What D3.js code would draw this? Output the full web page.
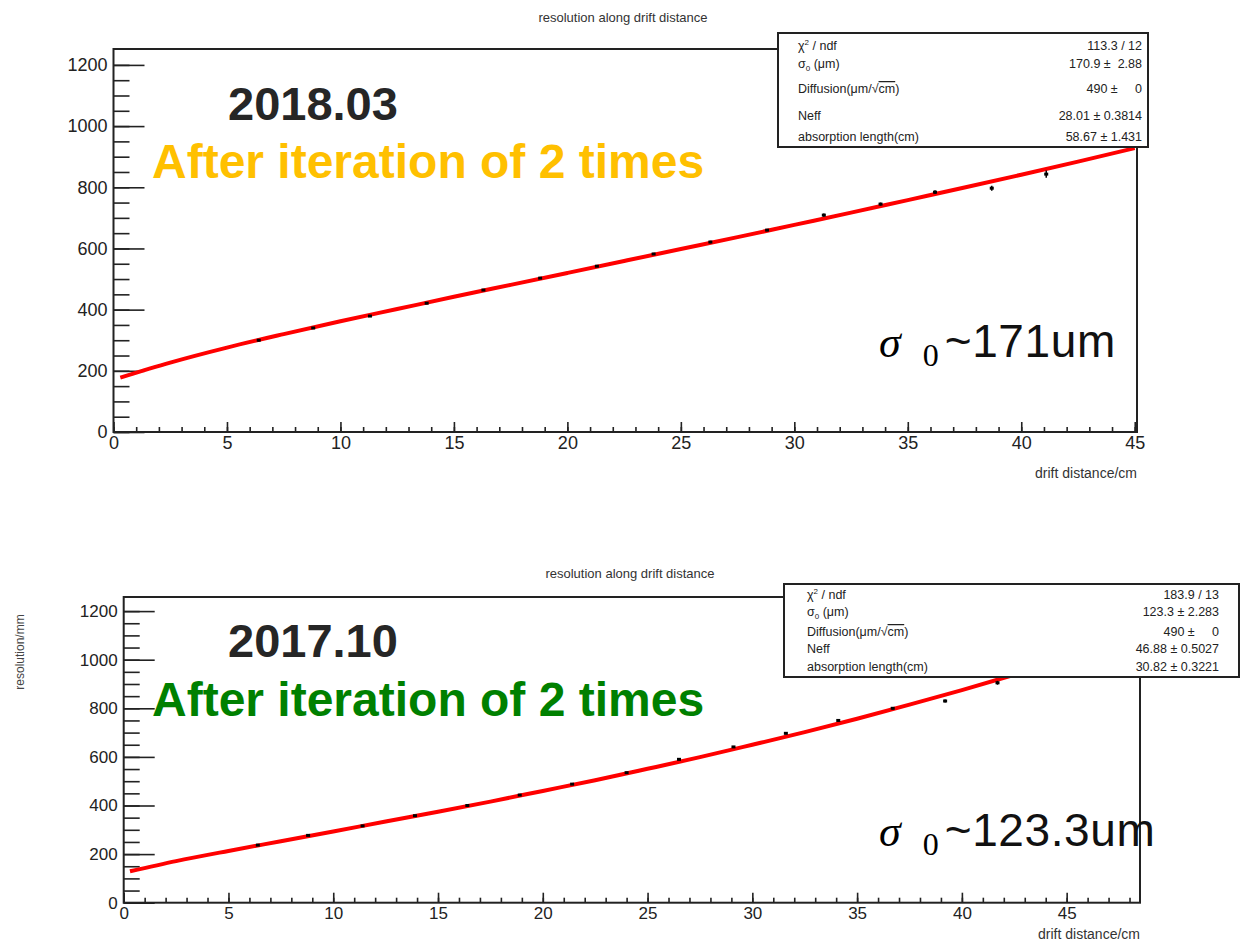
<!DOCTYPE html>
<meta charset="utf-8">
<style>
  body { margin: 0; background: #fff; }
  svg text { font-family: "Liberation Sans", Arial, sans-serif; }
</style>
<script src="https://d3js.org/d3.v7.min.js"></script>
<body>
<div id="chart"></div>
<script>

// ---- data ----
// top panel (2018.03)
var topX   = [6.4, 8.8, 11.3, 13.8, 16.3, 18.8, 21.3, 23.8, 26.3, 28.8, 31.3, 33.8, 36.2, 38.7, 41.1];
var topY   = [300, 340, 379, 421, 464, 503, 542, 582, 621, 660, 709, 745, 784, 797, 843];
var topErr = [4, 3, 3, 3, 3, 3, 3, 3, 4, 4, 5, 5, 6, 8, 12];
var topStats = ["113.3 / 12", "170.9 \u00b1  2.88", "490 \u00b1     0", "28.01 \u00b1 0.3814", "58.67 \u00b1 1.431"];

// bottom panel (2017.10)
var botX   = [6.4, 8.8, 11.4, 13.9, 16.4, 18.9, 21.4, 24.0, 26.5, 29.1, 31.6, 34.1, 36.7, 39.2, 41.7, 44.2];
var botY   = [237, 277, 316, 358, 400, 443, 488, 535, 590, 641, 697, 750, 800, 830, 905, 937];
var botErr = [3, 3, 3, 3, 3, 3, 3, 3, 4, 4, 4, 5, 5, 6, 8, 10];
var botStats = ["183.9 / 13", "123.3 \u00b1 2.283", "490 \u00b1     0", "46.88 \u00b1 0.5027", "30.82 \u00b1 0.3221"];

// fitted curves, sampled along x
var fitX    = [0.3, 2.5, 5, 7.5, 10, 12.5, 15, 17.5, 20, 22.5, 25, 27.5, 30, 32.5, 35, 37.5, 40, 42.5, 45];
var topFitY = [178, 227, 276, 320, 362, 402, 442, 481, 520, 559, 598, 637, 677, 717, 758, 799, 841, 884, 928];
var botFitY = [129, 171, 213, 253, 293, 334, 374, 416, 460, 504, 551, 599, 650, 702, 757, 815, 875, 938, 1004];

var yTicks = [0, 200, 400, 600, 800, 1000, 1200];
var xTicks = [0, 5, 10, 15, 20, 25, 30, 35, 40, 45];

var svg = d3.select("#chart").append("svg")
    .attr("width", 1240)
    .attr("height", 943);

function drawPanel(p) {
  var x = d3.scaleLinear().domain([0, p.xMax]).range([p.left, p.right]);
  var y = d3.scaleLinear().domain([0, p.yMax]).range([p.bottom, p.top]);
  var g = svg.append("g");

  // title
  g.append("text")
    .attr("x", p.titleX).attr("y", p.titleY)
    .attr("text-anchor", "middle")
    .style("font-size", "13px").style("fill", "#333")
    .text("resolution along drift distance");

  // minor / major y ticks (pointing into the frame)
  var minorY = d3.range(0, 1250, 50);
  g.append("g")
    .attr("transform", "translate(" + p.left + ",0)")
    .call(d3.axisLeft(y).tickValues(minorY).tickSizeInner(-16).tickSizeOuter(0).tickFormat(""))
    .call(function(a) { a.select(".domain").remove(); });
  g.append("g")
    .attr("transform", "translate(" + p.left + ",0)")
    .call(d3.axisLeft(y).tickValues(yTicks).tickSizeInner(-31).tickSizeOuter(0)
      .tickPadding(6).tickFormat(d3.format("d")))
    .call(function(a) {
      a.select(".domain").remove();
      a.selectAll("text").style("font-size", p.tickFont + "px").style("fill", "#222")
        .style("font-family", "'Liberation Sans', Arial, sans-serif");
    });

  // x ticks
  var minorX = d3.range(0, Math.floor(p.xMax) + 1, 1);
  g.append("g")
    .attr("transform", "translate(0," + p.bottom + ")")
    .call(d3.axisBottom(x).tickValues(minorX).tickSizeInner(-5).tickSizeOuter(0).tickFormat(""))
    .call(function(a) { a.select(".domain").remove(); });
  g.append("g")
    .attr("transform", "translate(0," + p.bottom + ")")
    .call(d3.axisBottom(x).tickValues(xTicks).tickSizeInner(-10).tickSizeOuter(0)
      .tickPadding(4).tickFormat(d3.format("d")))
    .call(function(a) {
      a.select(".domain").remove();
      a.selectAll("text").style("font-size", p.tickFont + "px").style("fill", "#222")
        .style("font-family", "'Liberation Sans', Arial, sans-serif");
    });
  g.selectAll(".tick line").attr("stroke", "#222").attr("stroke-width", 1.6);

  // frame
  g.append("rect")
    .attr("x", p.left).attr("y", p.top)
    .attr("width", p.right - p.left).attr("height", p.bottom - p.top)
    .attr("fill", "none").attr("stroke", "#222").attr("stroke-width", 2);

  // x axis label
  g.append("text")
    .attr("x", p.right).attr("y", p.xLabelY)
    .attr("text-anchor", "end")
    .style("font-size", "14px").style("fill", "#333")
    .text("drift distance/cm");

  // fit curve
  var line = d3.line()
    .x(function(d, i) { return x(fitX[i]); })
    .y(function(d) { return y(d); })
    .curve(d3.curveMonotoneX);
  g.append("path")
    .attr("d", line(p.fitY))
    .attr("fill", "none").attr("stroke", "#ff0000").attr("stroke-width", 4);

  // data points with error bars
  var pts = g.selectAll(".pt").data(p.ys).enter().append("g").attr("class", "pt");
  pts.append("line")
    .attr("x1", function(d, i) { return x(p.xs[i]); })
    .attr("x2", function(d, i) { return x(p.xs[i]); })
    .attr("y1", function(d, i) { return y(d - p.err[i]); })
    .attr("y2", function(d, i) { return y(d + p.err[i]); })
    .attr("stroke", "#000").attr("stroke-width", 1.5);
  pts.append("rect")
    .attr("x", function(d, i) { return x(p.xs[i]) - 2; })
    .attr("y", function(d) { return y(d) - 1.5; })
    .attr("width", 4).attr("height", 3)
    .attr("fill", "#000");

  // stats box
  var b = p.box;
  g.append("rect")
    .attr("x", b.x).attr("y", b.y).attr("width", b.w).attr("height", b.h)
    .attr("fill", "#fff").attr("stroke", "#222").attr("stroke-width", 2);
  var labelsG = g.append("g").style("font-size", "12.5px").style("fill", "#222");
  b.rows.forEach(function(ry, i) {
    var t = labelsG.append("text").attr("x", b.lx).attr("y", ry);
    if (i === 0) {
      t.append("tspan").text("\u03c7");
      t.append("tspan").attr("dy", -5).style("font-size", "8px").text("2");
      t.append("tspan").attr("dy", 5).text(" / ndf");
    } else if (i === 1) {
      t.append("tspan").text("\u03c3");
      t.append("tspan").attr("dy", 3).style("font-size", "8px").text("0");
      t.append("tspan").attr("dy", -3).text(" (\u03bcm)");
    } else if (i === 2) {
      t.append("tspan").text("Diffusion(\u03bcm/\u221a");
      t.append("tspan").style("text-decoration", "overline").text("cm");
      t.append("tspan").text(")");
    } else if (i === 3) {
      t.text("Neff");
    } else {
      t.text("absorption length(cm)");
    }
    labelsG.append("text")
      .attr("x", b.vx).attr("y", ry)
      .attr("text-anchor", "end")
      .style("white-space", "pre")
      .text(p.stats[i]);
  });

  // annotations
  g.append("text")
    .attr("x", 228).attr("y", p.dateY)
    .style("font-size", "47px").style("font-weight", "bold").style("fill", "#262626")
    .text(p.date);
  g.append("text")
    .attr("x", 152).attr("y", p.iterY)
    .style("font-size", "48px").style("font-weight", "bold").style("fill", p.iterColor)
    .text("After iteration of 2 times");

  var s = g.append("text").attr("x", 879).attr("y", p.sigmaY);
  s.append("tspan")
    .style("font-family", "'Liberation Serif', 'DejaVu Serif', serif")
    .style("font-style", "italic").style("font-size", "44px")
    .text("\u03c3");
  s.append("tspan")
    .attr("dx", 22).attr("dy", 9)
    .style("font-family", "'Liberation Serif', 'DejaVu Serif', serif")
    .style("font-size", "32px")
    .text("0");
  s.append("tspan")
    .attr("dx", 6).attr("dy", -9)
    .style("font-size", "46px").style("letter-spacing", "0.6px").style("fill", "#111")
    .text(p.sigmaText);
}

drawPanel({
  left: 113.5, right: 1137, top: 49, bottom: 432,
  xMax: 45.1, yMax: 1252, tickFont: 18,
  titleX: 623, titleY: 22, xLabelY: 478,
  xs: topX, ys: topY, err: topErr, fitY: topFitY, stats: topStats,
  box: { x: 778, y: 33, w: 370, h: 114, lx: 798, vx: 1142, rows: [50, 68, 93, 120, 141] },
  date: "2018.03", dateY: 120, iterY: 178, iterColor: "#ffc000",
  sigmaY: 357, sigmaText: "~171um"
});

drawPanel({
  left: 123.7, right: 1140, top: 597, bottom: 902.7,
  xMax: 48.5, yMax: 1258, tickFont: 17,
  titleX: 630, titleY: 578, xLabelY: 939,
  xs: botX, ys: botY, err: botErr, fitY: botFitY, stats: botStats,
  box: { x: 784, y: 584, w: 455, h: 93, lx: 807, vx: 1219, rows: [599, 616, 636, 653, 671] },
  date: "2017.10", dateY: 657, iterY: 716, iterColor: "#008000",
  sigmaY: 846, sigmaText: "~123.3um"
});

// y axis label (bottom panel only)
svg.append("text")
  .attr("transform", "translate(24,652) rotate(-90)")
  .attr("text-anchor", "middle")
  .style("font-size", "12px").style("fill", "#444")
  .text("resolution/mm");

</script>
</body>
